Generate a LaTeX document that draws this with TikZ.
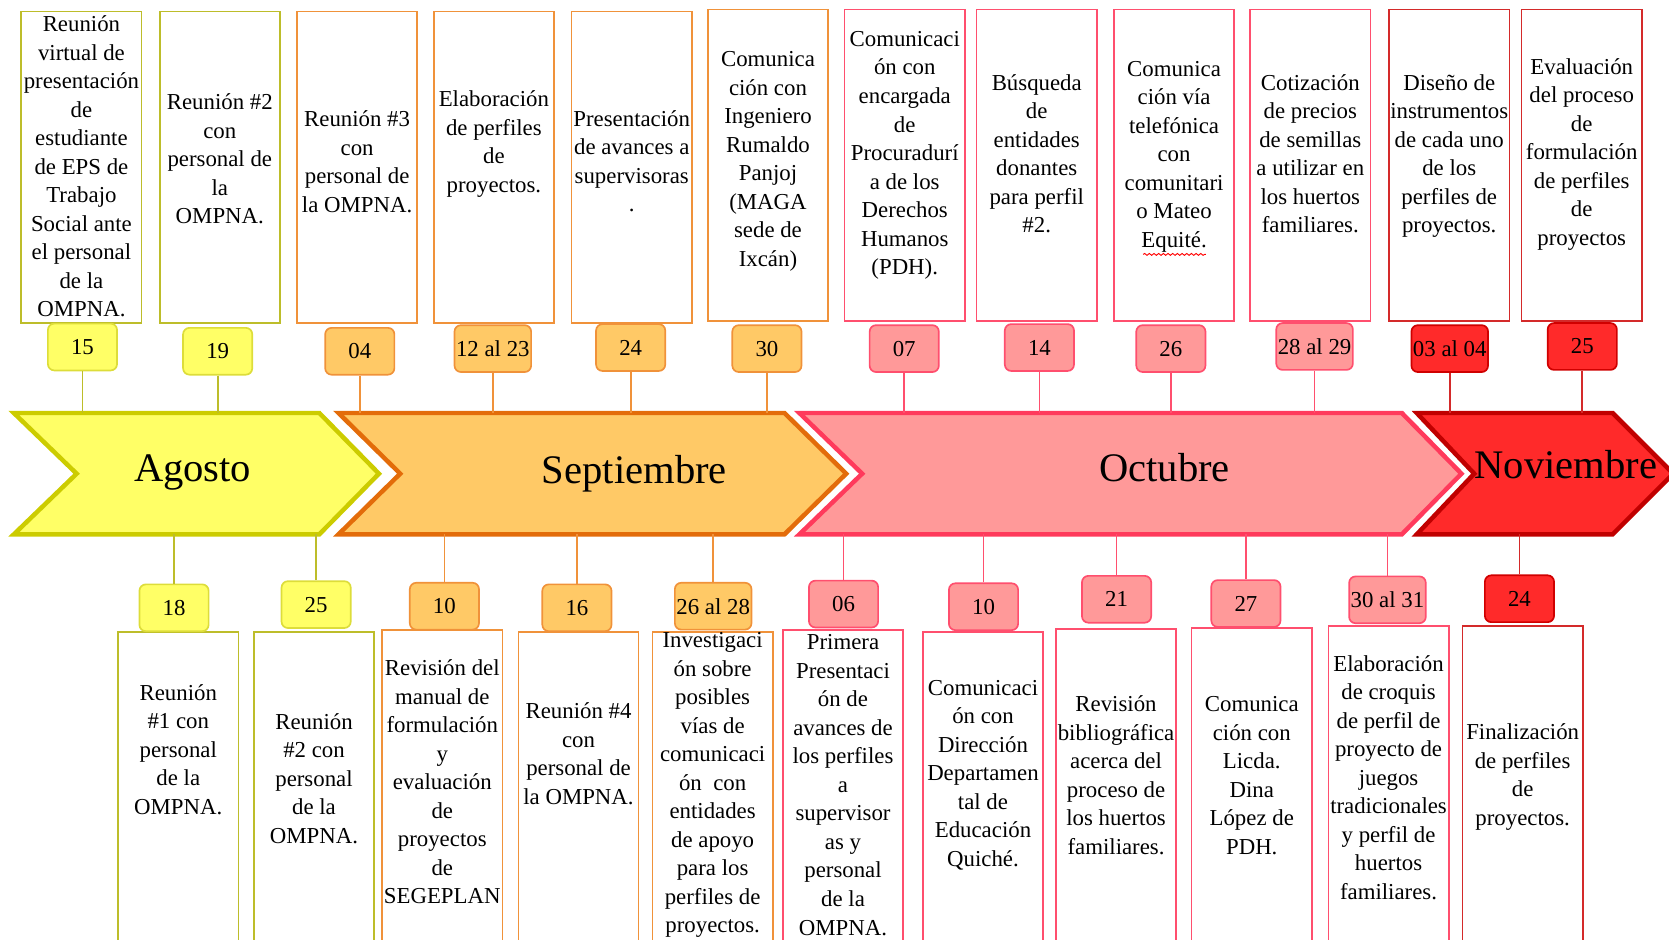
\documentclass[tikz,border=0pt]{standalone}
\usepackage{fontspec}
\setmainfont{Liberation Serif}
\usetikzlibrary{decorations.pathmorphing}
\definecolor{agoFill}{HTML}{FFFF66}
\definecolor{agoBand}{HTML}{CCCC00}
\definecolor{agoLine}{HTML}{BDBD2A}
\definecolor{agoEdge}{HTML}{DDDD3A}
\definecolor{sepFill}{HTML}{FFC966}
\definecolor{sepBand}{HTML}{E36C0A}
\definecolor{sepLine}{HTML}{F0923A}
\definecolor{sepEdge}{HTML}{F0923A}
\definecolor{octFill}{HTML}{FF9999}
\definecolor{octBand}{HTML}{FF3A5C}
\definecolor{octLine}{HTML}{FF4F6E}
\definecolor{octEdge}{HTML}{FF4F6E}
\definecolor{novFill}{HTML}{FF2A2A}
\definecolor{novBand}{HTML}{C00000}
\definecolor{novLine}{HTML}{D42A2A}
\definecolor{novEdge}{HTML}{D00000}
\tikzset{topbox/.style = {draw=#1Line, line width=0.9pt, minimum width=2.26cm, minimum height=5.86cm, anchor=north, inner sep=0}}
\tikzset{botbox/.style = {draw=#1Line, line width=0.9pt, minimum width=2.26cm, minimum height=6.2cm, anchor=north, inner sep=0}}
\tikzset{boxtext/.style = {align=center, inner sep=0, font=\fontsize{12.2}{15.25}\selectfont}}
\tikzset{day/.style = {draw=#1Edge, fill=#1Fill, line width=0.9pt, rounded corners=0.12cm, minimum width=1.3cm, minimum height=0.88cm, inner sep=0, font=\fontsize{12.2}{15}\selectfont}}
\tikzset{band/.style = {draw=#1Band, fill=#1Fill, line width=2.4pt, line join=miter}}
\tikzset{stem/.style = {draw=#1Line, line width=0.9pt}}
\tikzset{month/.style = {anchor=base, inner sep=0, font=\fontsize{21.7}{26}\selectfont}}

\begin{document}
\begin{tikzpicture}[x=0.02cm, y=-0.02cm]
        \useasboundingbox (0,0) rectangle (1568,883);
        \clip (0,0) rectangle (1568,883);
        % bands of the months
        \filldraw [band=ago] (13,388) -- (300,388) -- (356,445) -- (300,502) -- (13,502) -- (72,445) -- cycle;
        \filldraw [band=sep] (318,388) -- (737,388) -- (795,445) -- (737,502) -- (318,502) -- (376,445) -- cycle;
        \filldraw [band=oct] (751,388) -- (1317,388) -- (1373,445) -- (1317,502) -- (751,502) -- (810,445) -- cycle;
        \filldraw [band=nov] (1331,388) -- (1515,388) -- (1572,445) -- (1515,502) -- (1331,502) -- (1385,445) -- cycle;
        \node[month] (Agosto) at (181,452) {Agosto};
        \node[month] (Septiembre) at (596,454) {Septiembre};
        \node[month] (Octubre) at (1094,452) {Octubre};
        \node[month] (Noviembre) at (1471,450) {Noviembre};
        \coordinate (bandtop) at (0,388);
        \coordinate (bandbot) at (0,502);

        % upper row
        \node[topbox=ago] (bAgo15) at (76.5,10) {};
        \node[topbox=ago] (bAgo19) at (206.5,10) {};
        \node[topbox=sep] (bSep04) at (335.5,10) {};
        \node[topbox=sep] (bSep12) at (464,10) {};
        \node[topbox=sep] (bSep24) at (593.5,10) {};
        \node[topbox=sep] (bSep30) at (721.5,8) {};
        \node[topbox=oct] (bOct07) at (850,8) {};
        \node[topbox=oct] (bOct14) at (974,8) {};
        \node[topbox=oct] (bOct26) at (1103,8) {};
        \node[topbox=oct] (bOct28) at (1231,8) {};
        \node[topbox=nov] (bNov03) at (1361.5,8) {};
        \node[topbox=nov] (bNov25) at (1486,8) {};

        \node[boxtext] (tAgo15) at (76.5,156.5) {Reunión\\virtual de\\presentación\\de\\estudiante\\de EPS de\\Trabajo\\Social ante\\el personal\\de la\\OMPNA.};
        \node[boxtext] (tAgo19) at (206.5,149.5) {Reunión \#2\\con\\personal de\\la\\OMPNA.};
        \node[boxtext] (tSep04) at (335.5,152) {Reunión \#3\\con\\personal de\\la OMPNA.};
        \node[boxtext] (tSep12) at (464,135.5) {Elaboración\\de perfiles\\de\\proyectos.};
        \node[boxtext] (tSep24) at (593.5,151.5) {Presentación\\de avances a\\supervisoras\\.};
        \node[boxtext] (tSep30) at (721.5,151.5) {Comunica\\ción con\\Ingeniero\\Rumaldo\\Panjoj\\(MAGA\\sede de\\Ixcán)};
        \node[boxtext] (tOct07) at (850,146) {Comunicaci\\ón con\\encargada\\de\\Procuradurí\\a de los\\Derechos\\Humanos\\(PDH).};
        \node[boxtext] (tOct14) at (974,144.5) {Búsqueda\\de\\entidades\\donantes\\para perfil\\\#2.};
        \node[boxtext] (tOct26) at (1103,147) {Comunica\\ción vía\\telefónica\\con\\comunitari\\o Mateo\\Equité.};
        \node[boxtext] (tOct28) at (1231,144.5) {Cotización\\de precios\\de semillas\\a utilizar en\\los huertos\\familiares.};
        \node[boxtext] (tNov03) at (1361.5,146.5) {Diseño de\\instrumentos\\de cada uno\\de los\\perfiles de\\proyectos.};
        \node[boxtext] (tNov25) at (1486,145) {Evaluación\\del proceso\\de\\formulación\\de perfiles\\de\\proyectos};
        \draw[red, line width=0.5pt, decorate, decoration={snake, amplitude=0.5pt, segment length=2.5pt}] (1074,239) -- (1133,239);

        \node[day=ago] (dAgo15) at (77.5,326) {15};
        \node[day=ago] (dAgo19) at (204.5,330) {19};
        \node[day=sep] (dSep04) at (338,330) {04};
        \node[day=sep, minimum width=1.44cm] (dSep12) at (463,327.5) {12 al 23};
        \node[day=sep] (dSep24) at (592.5,326.5) {24};
        \node[day=sep] (dSep30) at (720.5,327.5) {30};
        \node[day=oct] (dOct07) at (849.5,327.5) {07};
        \node[day=oct] (dOct14) at (976.5,326.5) {14};
        \node[day=oct] (dOct26) at (1100,327.5) {26};
        \node[day=oct, minimum width=1.44cm] (dOct28) at (1235,325.5) {28 al 29};
        \node[day=nov, minimum width=1.44cm] (dNov03) at (1362,327.5) {03 al 04};
        \node[day=nov] (dNov25) at (1486.5,325.5) {25};

        \draw[stem=ago] (dAgo15) -- (dAgo15 |- bandtop);
        \draw[stem=ago] (dAgo19) -- (dAgo19 |- bandtop);
        \draw[stem=sep] (dSep04) -- (dSep04 |- bandtop);
        \draw[stem=sep] (dSep12) -- (dSep12 |- bandtop);
        \draw[stem=sep] (dSep24) -- (dSep24 |- bandtop);
        \draw[stem=sep] (dSep30) -- (dSep30 |- bandtop);
        \draw[stem=oct] (dOct07) -- (dOct07 |- bandtop);
        \draw[stem=oct] (dOct14) -- (dOct14 |- bandtop);
        \draw[stem=oct] (dOct26) -- (dOct26 |- bandtop);
        \draw[stem=oct] (dOct28) -- (dOct28 |- bandtop);
        \draw[stem=nov] (dNov03) -- (dNov03 |- bandtop);
        \draw[stem=nov] (dNov25) -- (dNov25 |- bandtop);

        % lower row
        \node[botbox=ago] (bAgo18) at (167.5,593) {};
        \node[botbox=ago] (bAgo25) at (295,593) {};
        \node[botbox=sep] (bSep10) at (415.5,591) {};
        \node[botbox=sep] (bSep16) at (543.5,593) {};
        \node[botbox=sep] (bSep26) at (669.5,593) {};
        \node[botbox=oct] (bOct06) at (792,591) {};
        \node[botbox=oct] (bOct10) at (923.5,593) {};
        \node[botbox=oct] (bOct21) at (1048.5,590) {};
        \node[botbox=oct] (bOct27) at (1176,589) {};
        \node[botbox=oct] (bOct30) at (1304.5,587) {};
        \node[botbox=nov] (bNov24) at (1430.5,587) {};

        \node[boxtext] (tAgo18) at (167.5,704) {Reunión\\\#1 con\\personal\\de la\\OMPNA.};
        \node[boxtext] (tAgo25) at (295,731.5) {Reunión\\\#2 con\\personal\\de la\\OMPNA.};
        \node[boxtext] (tSep10) at (415.5,734.5) {Revisión del\\manual de\\formulación\\y\\evaluación\\de\\proyectos\\de\\SEGEPLAN};
        \node[boxtext] (tSep16) at (543.5,708) {Reunión \#4\\con\\personal de\\la OMPNA.};
        \node[boxtext] (tSep26) at (669.5,737.5) {Investigaci\\ón sobre\\posibles\\vías de\\comunicaci\\ón\ \ con\\entidades\\de apoyo\\para los\\perfiles de\\proyectos.};
        \node[boxtext] (tOct06) at (792,737.5) {Primera\\Presentaci\\ón de\\avances de\\los perfiles\\a\\supervisor\\as y\\personal\\de la\\OMPNA.};
        \node[boxtext] (tOct10) at (923.5,728) {Comunicaci\\ón con\\Dirección\\Departamen\\tal de\\Educación\\Quiché.};
        \node[boxtext] (tOct21) at (1048.5,728.5) {Revisión\\bibliográfica\\acerca del\\proceso de\\los huertos\\familiares.};
        \node[boxtext] (tOct27) at (1176,728.5) {Comunica\\ción con\\Licda.\\Dina\\López de\\PDH.};
        \node[boxtext] (tOct30) at (1304.5,730.5) {Elaboración\\de croquis\\de perfil de\\proyecto de\\juegos\\tradicionales\\y perfil de\\huertos\\familiares.};
        \node[boxtext] (tNov24) at (1430.5,730) {Finalización\\de perfiles\\de\\proyectos.};

        \node[day=ago] (dAgo18) at (163.5,571) {18};
        \node[day=ago] (dAgo25) at (297,568) {25};
        \node[day=sep] (dSep10) at (417.5,569.5) {10};
        \node[day=sep] (dSep16) at (542,571) {16};
        \node[day=sep, minimum width=1.44cm] (dSep26) at (670,569.5) {26 al 28};
        \node[day=oct] (dOct06) at (792.5,567.5) {06};
        \node[day=oct] (dOct10) at (924,570) {10};
        \node[day=oct] (dOct21) at (1049,563) {21};
        \node[day=oct] (dOct27) at (1170.5,567) {27};
        \node[day=oct, minimum width=1.44cm] (dOct30) at (1303.5,563.5) {30 al 31};
        \node[day=nov] (dNov24) at (1427.5,562.5) {24};

        \draw[stem=ago] (dAgo18 |- bandbot) -- (dAgo18);
        \draw[stem=ago] (dAgo25 |- bandbot) -- (dAgo25);
        \draw[stem=sep] (dSep10 |- bandbot) -- (dSep10);
        \draw[stem=sep] (dSep16 |- bandbot) -- (dSep16);
        \draw[stem=sep] (dSep26 |- bandbot) -- (dSep26);
        \draw[stem=oct] (dOct06 |- bandbot) -- (dOct06);
        \draw[stem=oct] (dOct10 |- bandbot) -- (dOct10);
        \draw[stem=oct] (dOct21 |- bandbot) -- (dOct21);
        \draw[stem=oct] (dOct27 |- bandbot) -- (dOct27);
        \draw[stem=oct] (dOct30 |- bandbot) -- (dOct30);
        \draw[stem=nov] (dNov24 |- bandbot) -- (dNov24);
    \end{tikzpicture}
\end{document}
